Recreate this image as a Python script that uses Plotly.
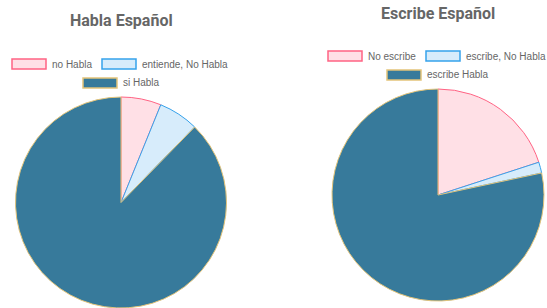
import plotly.graph_objects as go

W, H = 547, 308

# Data
habla_labels = ["no Habla", "entiende, No Habla", "si Habla"]
habla_values = [4, 4, 57]
escribe_labels = ["No escribe", "escribe, No Habla", "escribe Habla"]
escribe_values = [12, 1, 47]

fills = ["#ffe0e6", "#d7ecfb", "#377a9b"]
borders = ["#ff6384", "#36a2eb", "#e3c47a"]

def px(x):
    return x / W

def py(y):
    return 1 - y / H

fig = go.Figure()

fig.add_trace(go.Pie(
    labels=habla_labels, values=habla_values, sort=False, direction="clockwise",
    rotation=0, textinfo="none", showlegend=False, hoverinfo="skip",
    marker=dict(colors=fills, line=dict(color=borders, width=1)),
    domain=dict(x=[px(15), px(227)], y=[0, py(97)]),
))
fig.add_trace(go.Pie(
    labels=escribe_labels, values=escribe_values, sort=False, direction="clockwise",
    rotation=0, textinfo="none", showlegend=False, hoverinfo="skip",
    marker=dict(colors=fills, line=dict(color=borders, width=1)),
    domain=dict(x=[px(332), px(544)], y=[py(301), py(89)]),
))

annotations = []
shapes = []

title_font = dict(family="Roboto, Arial, sans-serif", size=16, color="#666666")
annotations.append(dict(text="<b>Habla Español</b>", x=px(121), y=py(20), xref="paper", yref="paper",
                        showarrow=False, font=title_font, xanchor="center", yanchor="middle"))
annotations.append(dict(text="<b>Escribe Español</b>", x=px(438), y=py(13), xref="paper", yref="paper",
                        showarrow=False, font=title_font, xanchor="center", yanchor="middle"))

leg_font = dict(family="Liberation Sans, Arial, sans-serif", size=10, color="#666666")

def legend(labels, boxes):
    for lab, (bx, by), fc, lc in zip(labels, boxes, fills, borders):
        shapes.append(dict(type="rect", xref="paper", yref="paper",
                           x0=px(bx), x1=px(bx + 34), y0=py(by), y1=py(by + 10),
                           fillcolor=fc, line=dict(color=lc, width=1.5)))
        annotations.append(dict(text=lab, x=px(bx + 38), y=py(by + 5), xref="paper", yref="paper",
                                showarrow=False, font=leg_font, xanchor="left", yanchor="middle"))

legend(habla_labels, [(12, 59), (102, 59), (83, 78)])
legend(escribe_labels, [(328, 51), (426, 51), (387, 70)])

fig.update_layout(
    width=W, height=H, margin=dict(l=0, r=0, t=0, b=0),
    paper_bgcolor="white", plot_bgcolor="white",
    annotations=annotations, shapes=shapes, showlegend=False,
)

fig.write_html("out.html", config={"displayModeBar": False},
               post_script="document.body.style.margin='0';")
